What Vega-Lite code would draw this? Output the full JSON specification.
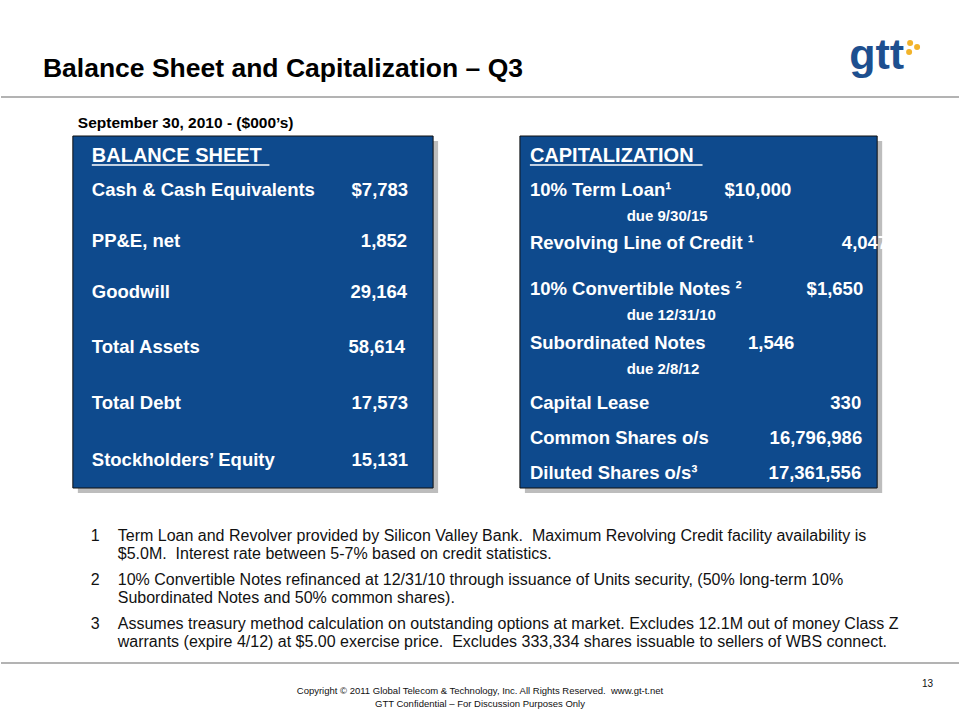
{
  "$schema": "https://vega.github.io/schema/vega-lite/v6.json",
  "width": 960,
  "height": 720,
  "autosize": {"type": "fit", "contains": "padding"},
  "padding": 0,
  "background": "white",
  "config": {"view": {"stroke": null}, "axis": {"domain": false, "grid": false, "ticks": false, "labels": false, "title": null}},
  "datasets": {
    "boxes": [
      {"panel": "Balance Sheet", "x0": 72, "x1": 433, "y0": 136, "y1": 488},
      {"panel": "Capitalization", "x0": 520, "x1": 878, "y0": 136, "y1": 488}
    ],
    "dividers": [
      {"name": "header", "y": 97},
      {"name": "footer", "y": 663}
    ],
    "underlines": [
      {"panel": "Balance Sheet", "x0": 91, "x1": 269, "y": 165},
      {"panel": "Capitalization", "x0": 530, "x1": 703, "y": 165}
    ],
    "logo_dots": [
      {"x": 911, "y": 43},
      {"x": 918, "y": 47},
      {"x": 910, "y": 52}
    ],
    "texts": [
      {"role": "title", "x": 42, "y": 77, "text": "Balance Sheet and Capitalization – Q3"},
      {"role": "logo", "x": 850, "y": 69, "text": "gtt"},
      {"role": "subtitle", "x": 77, "y": 128, "text": "September 30, 2010 - ($000’s)"},
      {"role": "heading", "x": 91, "y": 162, "text": "BALANCE SHEET"},
      {"role": "heading", "x": 530, "y": 162, "text": "CAPITALIZATION"},
      {"role": "label", "x": 91, "y": 196, "text": "Cash & Cash Equivalents"},
      {"role": "label", "x": 91, "y": 247, "text": "PP&E, net"},
      {"role": "label", "x": 91, "y": 298, "text": "Goodwill"},
      {"role": "label", "x": 91, "y": 353, "text": "Total Assets"},
      {"role": "label", "x": 91, "y": 409, "text": "Total Debt"},
      {"role": "label", "x": 91, "y": 466, "text": "Stockholders’ Equity"},
      {"role": "value", "x": 408, "y": 196, "text": "$7,783"},
      {"role": "value", "x": 407, "y": 247, "text": "1,852"},
      {"role": "value", "x": 407, "y": 298, "text": "29,164"},
      {"role": "value", "x": 405, "y": 353, "text": "58,614"},
      {"role": "value", "x": 408, "y": 409, "text": "17,573"},
      {"role": "value", "x": 408, "y": 466, "text": "15,131"},
      {"role": "label", "x": 530, "y": 196, "text": "10% Term Loan¹"},
      {"role": "label", "x": 530, "y": 249, "text": "Revolving Line of Credit ¹"},
      {"role": "label", "x": 530, "y": 295, "text": "10% Convertible Notes ²"},
      {"role": "label", "x": 530, "y": 349, "text": "Subordinated Notes"},
      {"role": "label", "x": 530, "y": 409, "text": "Capital Lease"},
      {"role": "label", "x": 530, "y": 444, "text": "Common Shares o/s"},
      {"role": "label", "x": 530, "y": 479, "text": "Diluted Shares o/s³"},
      {"role": "value", "x": 792, "y": 196, "text": "$10,000"},
      {"role": "value", "x": 889, "y": 249, "text": "4,047"},
      {"role": "value", "x": 864, "y": 295, "text": "$1,650"},
      {"role": "value", "x": 795, "y": 349, "text": "1,546"},
      {"role": "value", "x": 862, "y": 409, "text": "330"},
      {"role": "value", "x": 863, "y": 444, "text": "16,796,986"},
      {"role": "value", "x": 862, "y": 479, "text": "17,361,556"},
      {"role": "due", "x": 627, "y": 221, "text": "due 9/30/15"},
      {"role": "due", "x": 627, "y": 320, "text": "due 12/31/10"},
      {"role": "due", "x": 627, "y": 374, "text": "due 2/8/12"},
      {"role": "noteno", "x": 90, "y": 541, "text": "1"},
      {"role": "note", "x": 117, "y": 541, "text": "Term Loan and Revolver provided by Silicon Valley Bank.\u00a0 Maximum Revolving Credit facility availability is"},
      {"role": "note", "x": 117, "y": 559, "text": "$5.0M.\u00a0 Interest rate between 5-7% based on credit statistics."},
      {"role": "noteno", "x": 90, "y": 585, "text": "2"},
      {"role": "note", "x": 117, "y": 585, "text": "10% Convertible Notes refinanced at 12/31/10 through issuance of Units security, (50% long-term 10%"},
      {"role": "note", "x": 117, "y": 603, "text": "Subordinated Notes and 50% common shares)."},
      {"role": "noteno", "x": 90, "y": 629, "text": "3"},
      {"role": "note", "x": 117, "y": 629, "text": "Assumes treasury method calculation on outstanding options at market. Excludes 12.1M out of money Class Z"},
      {"role": "note", "x": 117, "y": 647, "text": "warrants (expire 4/12) at $5.00 exercise price.\u00a0 Excludes 333,334 shares issuable to sellers of WBS connect."},
      {"role": "footer", "x": 480, "y": 694, "text": "Copyright © 2011 Global Telecom & Technology, Inc. All Rights Reserved.\u00a0 www.gt-t.net"},
      {"role": "footer", "x": 480, "y": 707, "text": "GTT Confidential – For Discussion Purposes Only"},
      {"role": "page", "x": 934, "y": 687, "text": "13"}
    ]
  },
  "layer": [
    {
      "data": {"name": "boxes"},
      "mark": {"type": "rect", "fill": "#BDBDBD", "xOffset": 5, "x2Offset": 5, "yOffset": 5, "y2Offset": 5},
      "encoding": {
        "x": {"field": "x0", "type": "quantitative", "scale": {"domain": [0, 960], "nice": false, "zero": false}, "axis": null},
        "x2": {"field": "x1"},
        "y": {"field": "y0", "type": "quantitative", "scale": {"domain": [0, 720], "nice": false, "zero": false, "reverse": true}, "axis": null},
        "y2": {"field": "y1"}
      }
    },
    {
      "data": {"name": "boxes"},
      "mark": {"type": "rect", "fill": "#0E4A8D", "stroke": "#111111", "strokeWidth": 1},
      "encoding": {
        "x": {"field": "x0", "type": "quantitative"},
        "x2": {"field": "x1"},
        "y": {"field": "y0", "type": "quantitative"},
        "y2": {"field": "y1"}
      }
    },
    {
      "data": {"name": "dividers"},
      "mark": {"type": "rule", "stroke": "#9A9A9A", "strokeWidth": 1.5},
      "encoding": {
        "y": {"field": "y", "type": "quantitative"}
      }
    },
    {
      "data": {"name": "underlines"},
      "mark": {"type": "rule", "stroke": "white", "strokeWidth": 1.5},
      "encoding": {
        "x": {"field": "x0", "type": "quantitative"},
        "x2": {"field": "x1"},
        "y": {"field": "y", "type": "quantitative"}
      }
    },
    {
      "data": {"name": "logo_dots"},
      "mark": {"type": "circle", "fill": "#F2B32A", "opacity": 1, "size": 36},
      "encoding": {
        "x": {"field": "x", "type": "quantitative"},
        "y": {"field": "y", "type": "quantitative"}
      }
    },
    {
      "data": {"name": "texts"},
      "transform": [{"filter": "datum.role === 'title'"}],
      "mark": {"type": "text", "align": "left", "baseline": "alphabetic", "font": "Liberation Sans", "fontWeight": "bold", "fontSize": 26.5, "fill": "#000000"},
      "encoding": {"x": {"field": "x", "type": "quantitative"}, "y": {"field": "y", "type": "quantitative"}, "text": {"field": "text"}}
    },
    {
      "data": {"name": "texts"},
      "transform": [{"filter": "datum.role === 'logo'"}],
      "mark": {"type": "text", "align": "left", "baseline": "alphabetic", "font": "Liberation Sans", "fontWeight": "bold", "fontSize": 43, "fill": "#1D4F8F"},
      "encoding": {"x": {"field": "x", "type": "quantitative"}, "y": {"field": "y", "type": "quantitative"}, "text": {"field": "text"}}
    },
    {
      "data": {"name": "texts"},
      "transform": [{"filter": "datum.role === 'subtitle'"}],
      "mark": {"type": "text", "align": "left", "baseline": "alphabetic", "font": "Liberation Sans", "fontWeight": "bold", "fontSize": 15.5, "fill": "#000000"},
      "encoding": {"x": {"field": "x", "type": "quantitative"}, "y": {"field": "y", "type": "quantitative"}, "text": {"field": "text"}}
    },
    {
      "data": {"name": "texts"},
      "transform": [{"filter": "datum.role === 'heading'"}],
      "mark": {"type": "text", "align": "left", "baseline": "alphabetic", "font": "Liberation Sans", "fontWeight": "bold", "fontSize": 20, "fill": "white"},
      "encoding": {"x": {"field": "x", "type": "quantitative"}, "y": {"field": "y", "type": "quantitative"}, "text": {"field": "text"}}
    },
    {
      "data": {"name": "texts"},
      "transform": [{"filter": "datum.role === 'label'"}],
      "mark": {"type": "text", "align": "left", "baseline": "alphabetic", "font": "Liberation Sans", "fontWeight": "bold", "fontSize": 18.5, "fill": "white"},
      "encoding": {"x": {"field": "x", "type": "quantitative"}, "y": {"field": "y", "type": "quantitative"}, "text": {"field": "text"}}
    },
    {
      "data": {"name": "texts"},
      "transform": [{"filter": "datum.role === 'value'"}],
      "mark": {"type": "text", "align": "right", "baseline": "alphabetic", "font": "Liberation Sans", "fontWeight": "bold", "fontSize": 18.5, "fill": "white"},
      "encoding": {"x": {"field": "x", "type": "quantitative"}, "y": {"field": "y", "type": "quantitative"}, "text": {"field": "text"}}
    },
    {
      "data": {"name": "texts"},
      "transform": [{"filter": "datum.role === 'due'"}],
      "mark": {"type": "text", "align": "left", "baseline": "alphabetic", "font": "Liberation Sans", "fontWeight": "bold", "fontSize": 15, "fill": "white"},
      "encoding": {"x": {"field": "x", "type": "quantitative"}, "y": {"field": "y", "type": "quantitative"}, "text": {"field": "text"}}
    },
    {
      "data": {"name": "texts"},
      "transform": [{"filter": "datum.role === 'note' || datum.role === 'noteno'"}],
      "mark": {"type": "text", "align": "left", "baseline": "alphabetic", "font": "Liberation Sans", "fontSize": 16, "fill": "#111111"},
      "encoding": {"x": {"field": "x", "type": "quantitative"}, "y": {"field": "y", "type": "quantitative"}, "text": {"field": "text"}}
    },
    {
      "data": {"name": "texts"},
      "transform": [{"filter": "datum.role === 'footer'"}],
      "mark": {"type": "text", "align": "center", "baseline": "alphabetic", "font": "Liberation Sans", "fontSize": 9.5, "fill": "#111111"},
      "encoding": {"x": {"field": "x", "type": "quantitative"}, "y": {"field": "y", "type": "quantitative"}, "text": {"field": "text"}}
    },
    {
      "data": {"name": "texts"},
      "transform": [{"filter": "datum.role === 'page'"}],
      "mark": {"type": "text", "align": "right", "baseline": "alphabetic", "font": "Liberation Sans", "fontSize": 10, "fill": "#111111"},
      "encoding": {"x": {"field": "x", "type": "quantitative"}, "y": {"field": "y", "type": "quantitative"}, "text": {"field": "text"}}
    }
  ]
}
